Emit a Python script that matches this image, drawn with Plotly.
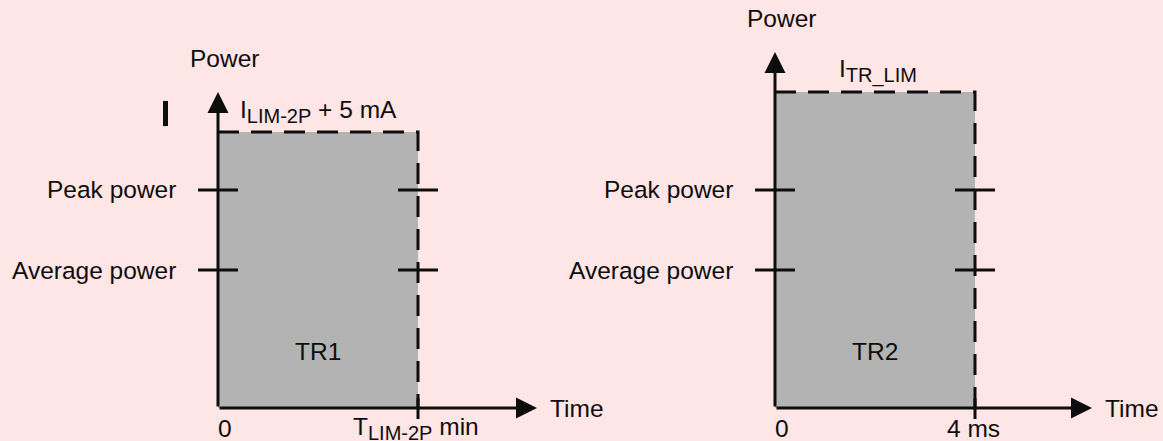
import plotly.graph_objects as go

# ---- data (schematic units: average power = 1, test duration = 1) ----
panels = ["TR1", "TR2"]
limit_levels = [2.0, 2.29]          # current-limit power level of each test
durations = [1.0, 1.0]              # test duration (normalised)
peak_power = 1.58
average_power = 1.0
level_labels = ["Peak power", "Average power"]
limit_labels = ["I<sub><span style='font-size:20px'>LIM-2P</span></sub> + 5 mA",
                "I<sub><span style='font-size:20px'>TR_LIM</span></sub>"]
duration_labels = ["T<sub><span style='font-size:20px'>LIM-2P</span></sub> min", "4 ms"]
axis_labels = ["Power", "Time"]
origin_label = "0"

# ---- styling ----
BG = "#fee5e6"
GRAY = "#b3b3b3"
INK = "#0d0d0d"
FONT = "Liberation Sans, Arial, sans-serif"
FS = 24.5
W, H = 1163, 441
y_tip = [2.29, 2.58]
x_tip = [1.595, 1.585]
power_label_y = [2.53, 2.82]
limit_label_x = [0.10, 0.31]
limit_label_y = [2.15, 2.44]

fig = go.Figure()
annotations = []
shapes = []

axes = [("x", "y"), ("x2", "y2")]
for i, name in enumerate(panels):
    xa, ya = axes[i]
    L = limit_levels[i]
    d = durations[i]
    # filled test area
    fig.add_trace(go.Scatter(x=[0, 0, d, d, 0], y=[0, L, L, 0, 0], fill="toself",
                             fillcolor=GRAY, line=dict(width=0), mode="lines",
                             xaxis=xa, yaxis=ya, hoverinfo="skip"))
    # dashed limit boundary
    fig.add_trace(go.Scatter(x=[0, d, d], y=[L, L, 0], mode="lines",
                             line=dict(color=INK, width=3, dash="21px,12px"),
                             xaxis=xa, yaxis=ya, hoverinfo="skip"))
    # small tick at duration end on time axis
    fig.add_trace(go.Scatter(x=[d, d], y=[-0.08, 0.07], mode="lines",
                             line=dict(color=INK, width=3),
                             xaxis=xa, yaxis=ya, hoverinfo="skip"))
    # level ticks on both sides
    for lvl in [peak_power, average_power]:
        for cx in [0, d]:
            fig.add_trace(go.Scatter(x=[cx - 0.1, cx + 0.1], y=[lvl, lvl], mode="lines",
                                     line=dict(color=INK, width=3),
                                     xaxis=xa, yaxis=ya, hoverinfo="skip"))
    # axes with arrows
    for (tx, ty) in [(0, y_tip[i]), (x_tip[i], 0)]:
        annotations.append(dict(x=tx, y=ty, ax=0, ay=0, xref=xa, yref=ya,
                                axref=xa, ayref=ya, showarrow=True, arrowhead=2,
                                arrowsize=1.4, arrowwidth=3, arrowcolor=INK, text=""))
    txt = lambda **k: annotations.append(dict(xref=xa, yref=ya, showarrow=False,
                                              font=dict(family=FONT, size=FS, color=INK), **k))
    txt(x=-0.15, y=power_label_y[i], text=axis_labels[0], xanchor="left", yanchor="middle")
    txt(x=x_tip[i] + 0.055, y=0, text=axis_labels[1], xanchor="left", yanchor="middle")
    txt(x=limit_label_x[i], y=limit_label_y[i], text=limit_labels[i], xanchor="left", yanchor="middle")
    txt(x=-0.2, y=peak_power, text=level_labels[0], xanchor="right", yanchor="middle")
    txt(x=-0.2, y=average_power, text=level_labels[1], xanchor="right", yanchor="middle")
    txt(x=d * 0.5, y=0.41, text=name, xanchor="center", yanchor="middle")
    txt(x=0.035, y=-0.145, text=origin_label, xanchor="center", yanchor="middle")
    txt(x=d * 0.99, y=-0.15, text=duration_labels[i], xanchor="center", yanchor="middle")

# stray bar mark in the left panel
shapes.append(dict(type="line", xref="x", yref="y", x0=-0.2625, x1=-0.2625, y0=2.043, y1=2.225,
                   line=dict(color=INK, width=5)))

yr = [-33 / 138, 408 / 138]
fig.update_layout(
    width=W, height=H, margin=dict(l=0, r=0, t=0, b=0),
    paper_bgcolor=BG, plot_bgcolor=BG, showlegend=False,
    xaxis=dict(domain=[0, 0.5], range=[-218 / 200, (581.5 - 218) / 200], visible=False),
    yaxis=dict(domain=[0, 1], range=yr, visible=False),
    xaxis2=dict(domain=[0.5, 1], range=[(581.5 - 775) / 200, (1163 - 775) / 200], visible=False),
    yaxis2=dict(domain=[0, 1], range=yr, visible=False, anchor="x2"),
    annotations=annotations, shapes=shapes,
)
fig.write_html("out.html", config={"displayModeBar": False},
               post_script="document.body.style.margin='0';document.body.style.overflow='hidden';")
